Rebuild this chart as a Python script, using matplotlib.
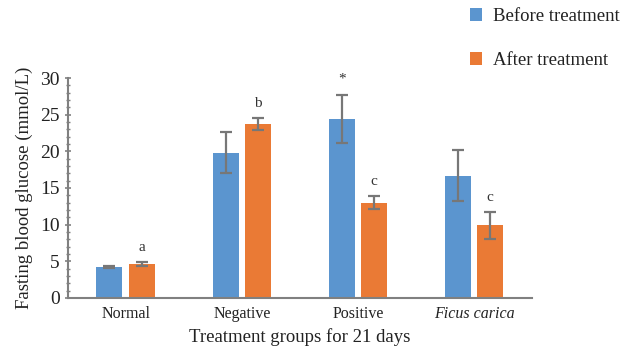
import matplotlib.pyplot as plt
import numpy as np

groups = ['Normal', 'Negative', 'Positive', 'Ficus carica']
before = [4.2, 19.8, 24.4, 16.7]
before_err = [0.1, 2.8, 3.3, 3.5]
after = [4.6, 23.7, 13.0, 9.9]
after_err = [0.25, 0.8, 0.85, 1.8]
marks_before = ['', '', '*', '']
marks_after = ['a', 'b', 'c', 'c']

plt.rcParams['font.family'] = ['Liberation Serif', 'DejaVu Serif']

fig = plt.figure(figsize=(6.26, 3.53), dpi=100)
ax = fig.add_axes([0.108, 0.156, 0.742, 0.623])

x = np.arange(len(groups))
w = 0.224
off = 0.14
blue = '#5B95CF'
orange = '#EA7A35'
ekw = dict(ecolor='#777777', elinewidth=1.6, capsize=4, capthick=1.6)

b1 = ax.bar(x - off, before, w, yerr=before_err, color=blue, error_kw=ekw,
            label='Before treatment')
b2 = ax.bar(x + off, after, w, yerr=after_err, color=orange, error_kw=ekw,
            label='After treatment')

for i in range(len(groups)):
    if marks_before[i]:
        ax.annotate(marks_before[i], (x[i] - off, before[i] + before_err[i]),
                    xytext=(0, 7), textcoords='offset points',
                    ha='center', va='bottom', fontsize=11, color='#333333')
    if marks_after[i]:
        ax.annotate(marks_after[i], (x[i] + off, after[i] + after_err[i]),
                    xytext=(0, 6), textcoords='offset points',
                    ha='center', va='bottom', fontsize=11, color='#333333')

ax.set_xlim(-0.5, 3.5)
ax.set_ylim(0, 30)
ax.set_yticks(range(0, 31, 5))
ax.set_yticks(range(0, 31), minor=True)
ax.set_xticks(x)
ax.set_xticklabels(groups)
ax.get_xticklabels()[3].set_style('italic')

for s in ['top', 'right']:
    ax.spines[s].set_visible(False)
ax.spines['left'].set_color('#808080')
ax.spines['bottom'].set_color('#808080')
ax.spines['left'].set_linewidth(1.5)
ax.spines['bottom'].set_linewidth(1.5)

ax.tick_params(axis='y', which='major', direction='inout', length=5,
               width=1.2, color='#808080', labelsize=14, labelcolor='#222222', pad=3)
ax.tick_params(axis='y', which='minor', direction='inout', length=3,
               width=1.0, color='#808080')
ax.tick_params(axis='x', length=0, labelsize=11.5, labelcolor='#222222', pad=6)

ax.set_ylabel('Fasting blood glucose (mmol/L)', fontsize=13.5, color='#222222', labelpad=5)
ax.set_xlabel('Treatment groups for 21 days', fontsize=13.5, color='#222222', labelpad=4)

fig.legend(handles=[b1, b2], loc='upper left', bbox_to_anchor=(0.724, 1.025),
           frameon=False, fontsize=13.5, handlelength=0.65, handleheight=0.65,
           handletextpad=0.55, labelspacing=1.45, labelcolor='#222222')

fig.savefig('out.png', dpi=100)
